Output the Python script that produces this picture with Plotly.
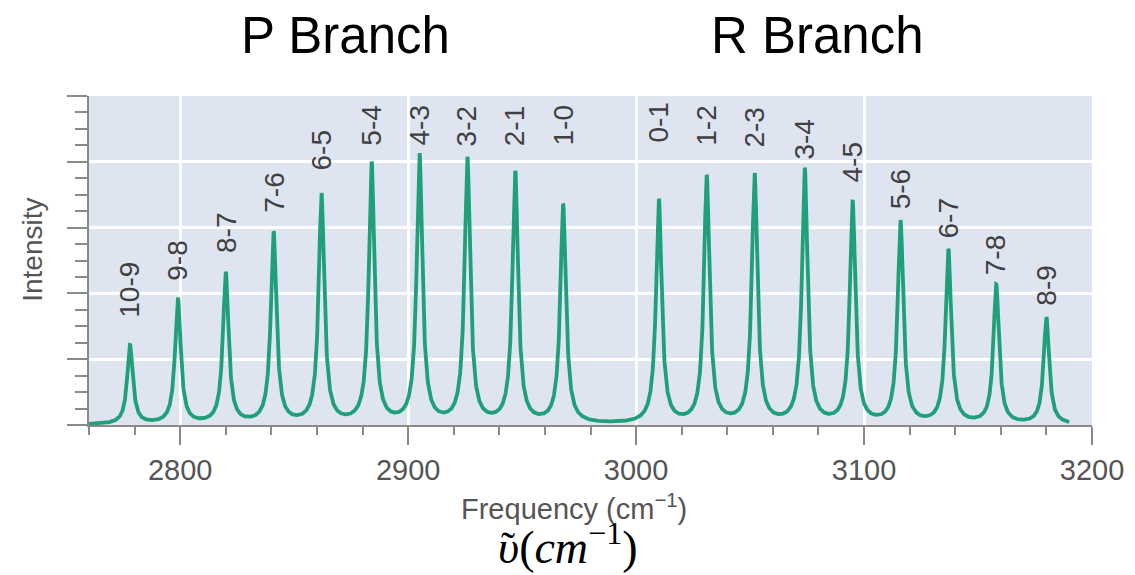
import numpy as np
import plotly.graph_objects as go

# ---- data ----
p_labels = ["10-9", "9-8", "8-7", "7-6", "6-5", "5-4", "4-3", "3-2", "2-1", "1-0"]
p_freqs = [2778, 2799, 2820, 2841, 2862, 2884, 2905, 2926, 2947, 2968]
p_heights = [1.20, 1.91, 2.29, 2.90, 3.48, 3.95, 4.08, 4.02, 3.81, 3.32]
p_label_y = [1.60, 2.16, 2.58, 3.19, 3.83, 4.21, 4.21, 4.21, 4.21, 4.22]

r_labels = ["0-1", "1-2", "2-3", "3-4", "4-5", "5-6", "6-7", "7-8", "8-9"]
r_freqs = [3010, 3031, 3052, 3074, 3095, 3116, 3137, 3158, 3180]
r_heights = [3.40, 3.75, 3.78, 3.86, 3.35, 3.07, 2.64, 2.11, 1.62]
r_label_y = [4.26, 4.21, 4.18, 4.00, 3.65, 3.24, 2.81, 2.25, 1.79]

line_width_cm = 1.5          # Lorentzian half width of each line
freq_start, freq_end = 2760, 3190
x_ticks = [2800, 2900, 3000, 3100, 3200]

# ---- build spectrum from the peak list ----
freqs = p_freqs + r_freqs
heights = p_heights + r_heights
x = np.linspace(freq_start, freq_end, 4000)
y = np.zeros_like(x)
for f0, h in zip(freqs, heights):
    y += h * line_width_cm**2 / ((x - f0) ** 2 + line_width_cm**2)

fig = go.Figure()
fig.add_trace(go.Scatter(x=x, y=y, mode="lines",
                         line=dict(color="#1fa07a", width=3.8),
                         hoverinfo="skip", showlegend=False))

SANS = "Liberation Sans, Arial, sans-serif"
SERIF = "Liberation Serif, Times New Roman, serif"

label_font = dict(family=SANS, size=28, color="#404040")
for lab, f0, ly in zip(p_labels + r_labels, freqs, p_label_y + r_label_y):
    fig.add_annotation(x=f0, y=ly, text=lab, textangle=-90, showarrow=False,
                       xanchor="center", yanchor="bottom", font=label_font)

title_font = dict(family=SANS, size=51, color="#000000")
fig.add_annotation(xref="paper", yref="paper", x=0.256, y=1.183, text="P Branch",
                   showarrow=False, font=title_font, xanchor="center", yanchor="middle")
fig.add_annotation(xref="paper", yref="paper", x=0.726, y=1.183, text="R Branch",
                   showarrow=False, font=title_font, xanchor="center", yanchor="middle")

fig.add_annotation(xref="paper", yref="paper", x=0.484, y=-0.249,
                   text="Frequency (cm<sup>−1</sup>)", showarrow=False,
                   font=dict(family=SANS, size=29, color="#555555"),
                   xanchor="center", yanchor="middle")
fig.add_annotation(xref="paper", yref="paper", x=-0.056, y=0.532, text="Intensity",
                   textangle=-90, showarrow=False,
                   font=dict(family=SANS, size=28, color="#555555"),
                   xanchor="center", yanchor="middle")
fig.add_annotation(xref="paper", yref="paper", x=0.4776, y=-0.456,
                   text="<i>υ</i>(<i>cm</i><sup>−1</sup>)", showarrow=False,
                   font=dict(family=SERIF, size=46, color="#000000"),
                   xanchor="center", yanchor="bottom")
fig.add_annotation(xref="paper", yref="paper", x=0.4177, y=-0.37,
                   text="˜", showarrow=False,
                   font=dict(family=SERIF, size=42, color="#000000"),
                   xanchor="center", yanchor="middle")

axis_col = "#8a8a8a"
fig.update_layout(
    width=1127, height=567,
    margin=dict(l=81, r=43, t=88, b=150),
    paper_bgcolor="white", plot_bgcolor="#dfe4f1",
    xaxis=dict(range=[2760, 3200], tickvals=x_ticks, showgrid=True, gridcolor="white",
               gridwidth=3, zeroline=False, showline=True, linecolor=axis_col, linewidth=2,
               ticks="outside", ticklen=18, tickwidth=2, tickcolor=axis_col,
               ticklabelstandoff=0,
               tickfont=dict(family=SANS, size=29, color="#555555"),
               minor=dict(dtick=20, tick0=2760, ticks="outside", ticklen=8, tickwidth=2,
                          tickcolor=axis_col, showgrid=False)),
    yaxis=dict(range=[0, 5], dtick=1, showgrid=True, gridcolor="white", gridwidth=3,
               zeroline=False, showline=True, linecolor=axis_col, linewidth=2,
               ticks="outside", ticklen=20, tickwidth=2, tickcolor=axis_col,
               showticklabels=False,
               minor=dict(dtick=0.25, ticks="outside", ticklen=12, tickwidth=2,
                          tickcolor=axis_col, showgrid=False)),
)

fig.write_html("out.html")
